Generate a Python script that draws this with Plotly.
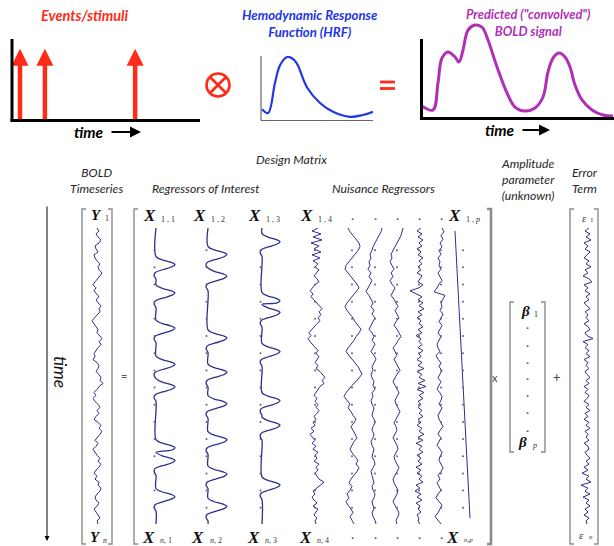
import plotly.graph_objects as go

W, H = 614, 546

# ------------------------------------------------------------------ data
# top row: events, HRF, predicted BOLD
EVENT_ONSETS = [2.55, 10.5, 39.3]
EVENT_HEIGHT = 0.89

HRF_T = [0.27, 1.9, 3.75, 5.1, 7.0, 8.3, 9.6, 12.3, 15.8, 19.3, 23.8, 27.3, 30.0]
HRF_V = [0.17, 0.11, 0.59, 0.87, 1.0, 0.98, 0.90, 0.52, 0.27, 0.13, 0.05, 0.08, 0.13]

BOLD_T = [0.22, 3.73, 5.28, 6.53, 8.39, 10.57, 11.81, 13.06, 14.61, 16.79, 18.96, 20.83,
          23.63, 26.74, 29.22, 32.33, 35.44, 37.93, 39.48, 41.04, 42.90, 44.77, 46.32,
          47.88, 50.05, 53.16, 56.58, 59.69]
BOLD_V = [0.129, 0.086, 0.376, 0.645, 0.710, 0.656, 0.602, 0.731, 0.946, 1.0, 0.978, 0.839,
          0.548, 0.269, 0.118, 0.075, 0.108, 0.226, 0.495, 0.645, 0.699, 0.656, 0.548,
          0.355, 0.194, 0.086, 0.032, 0.022]

# regressors of interest: response peaks (scan index 0..100) and bump profile
X11_PEAKS = [12.3, 21.9, 33.8, 46.0, 53.6, 74.2, 78.5, 90.7]
X12_PEAKS = [8.9, 16.2, 37.1, 48.7, 59.3, 71.5, 83.1, 94.0]
X13_PEAKS = [4.6, 24.5, 28.5, 41.7, 58.3, 66.6, 86.8]
BUMP_DT = [-2.7, -1.6, -0.7, 0.0, 0.8, 1.8, 2.8, 3.8, 5.0]
BUMP_V = [0.0, 0.3, 0.8, 1.0, 0.85, 0.35, -0.05, -0.1, 0.0]

# BOLD time series
Y_VALS = [0, 2, -1, 1, 4, 2, -2, -1, 1, -3,
          -2, 0, 3, 1, 2, 5, 3, 0, -2, -4,
          -1, -3, 0, 2, -1, 1, 4, 2, 3, 0,
          -2, -5, -3, -1, 1, 0, 3, 5, 2, 4,
          1, -1, -3, -2, -4, 0, 2, 1, -1, 2,
          4, 3, 6, 2, 0, -3, -1, -4, -2, 1,
          3, 0, 2, -1, -3, 1, 4, 2, 5, 3,
          0, -2, 1, -1, -4, -2, 0, 3, 1, 4,
          2, -1, -3, 0, -2, 2, 1, 4, 3, 0,
          -2, -1, 2, 0, -3, -1, 1, 3, 0, 1]

# nuisance regressors
NUIS_A = [2, -4, 5, -3, 6, -5, 3, -2, 5, -4,
          4, -3, 2, -1, 3, 0, -2, 1, 3, -1,
          -4, -6, -3, -5, -2, 1, 4, 6, 3, 5,
          2, 4, 1, -2, -4, -7, -5, -8, -6, -3,
          -1, 2, 0, 3, 1, -1, 2, 0, 4, 7,
          9, 6, 8, 4, 2, 0, -2, 1, -1, 2,
          0, 3, 1, -2, 0, -3, -1, -5, -2, -6,
          -3, -1, -4, 0, -3, 2, -1, 1, -2, 3,
          0, 2, -1, 1, 3, 8, 4, 0, -3, -1,
          -4, -2, 1, -3, 2, 0, -2, 1, -1, 0]
NUIS_B = [-5, -3, 0, 3, 6, 7, 5, 2, -1, -4,
          -7, -8, -5, -2, 1, 4, 6, 3, 0, -3,
          -6, -8, -6, -3, 0, 2, 5, 8, 6, 3,
          1, -2, -5, -7, -4, -1, 2, 5, 7, 9,
          6, 3, -1, -4, -7, -9, -6, -3, -5, -2,
          0, 3, 1, -2, 0, 2, 4, 1, -1, -3,
          -1, 2, 5, 3, 6, 4, 1, -2, -4, -1,
          -3, -6, -4, -7, -5, -2, 0, -3, -1, 1]
NUIS_C = [9, 8, 6, 4, 2, 0, -1, -3, -2, -4,
          -3, -5, -2, -4, -1, -3, -5, -7, -4, -2,
          0, -2, 1, -1, 2, 0, -2, -4, -1, 1,
          -1, 2, 0, -2, 1, 3, 1, -1, 0, -2,
          -1, 1, 0, 2, -1, 0, -2, -1, 1, 0,
          -1, 1, 2, 0, -1, 1, 0, -2, -1, 1,
          0, -1, 1, 2, 0, -2, -1, 0, 1, -1,
          0, 2, 1, -1, 0, 1, -1, 0, 2, 3]
NUIS_D = [7, 6, 5, 3, 1, -1, -3, -5, -4, -6,
          -4, -2, -5, -3, -6, -4, -1, -3, -5, -2,
          0, 2, -1, 1, 3, 0, -2, 1, 3, 5,
          2, 0, -3, -1, 1, -2, 0, 2, 4, 1,
          -1, -3, -1, 1, 3, 1, -1, 0, 2, 4,
          2, 0, -2, 0, 1, -1, -3, -1, 1, 2,
          0, -2, -1, 1, 3, 1, -1, -3, -2, 0,
          2, 1, -1, -3, -1, 1, 3, 2, 0, 1]
NUIS_E = [1, -3, 2, -2, 3, -1, 2, -3, 1, -2,
          3, -1, 2, -2, 1, -3, 2, 0, -2, 3,
          -1, -10, -4, 2, -2, 3, -1, 4, -2, 2,
          -3, 1, -1, 3, -2, 2, -4, 1, -1, 2,
          -2, 3, -1, 1, -3, 2, -2, 4, -3, 2,
          -1, 5, -2, 6, -3, 4, -1, 3, -2, 1,
          -2, 2, -1, 3, -2, 1, -3, 2, -1, 4,
          -2, 3, -4, 2, -1, 3, -3, 1, -2, 2,
          -4, 1, -3, 2, -1, 3, -4, 0, -5, 1,
          -3, 2, -4, 0, -2, 1, -3, -1, -2, 0]
NUIS_F = [2, 4, 1, 3, 0, 2, -1, 1, -2, 0,
          -1, 1, -2, 0, 2, -1, -3, -6, 5, 3,
          1, 2, 0, 3, 1, -1, 2, 0, -2, 1,
          -1, -3, -2, 0, -4, -2, 1, -1, 2, 0,
          -2, 1, -1, -3, 0, 2, 1, -1, 2, 0,
          -2, -1, 1, 3, 0, -2, 1, -1, -3, 0,
          2, 0, -1, 1, 3, 1, -2, 0, -3, -1,
          1, -2, -4, -1, 2, 0, -2, -5, -2, 1]
TREND_T = [1, 98]
TREND_V = [0, 15]

# error term
ERR_VALS = [2, -2, 3, -1, 4, -3, 1, -2, 3, 0,
            -3, 2, -1, 4, -2, 1, -4, 2, 5, -3,
            1, -2, 3, -1, 2, -3, 0, 3, -2, 1,
            -1, 2, -3, 1, 3, -2, 0, 6, -4, 1,
            -2, 2, -1, 3, -3, 1, -1, 2, -2, 0,
            3, -1, 2, -3, 1, -2, 2, 0, -3, 2,
            -1, 3, -2, 1, -3, 2, -1, 3, -2, 1,
            -1, 2, -3, 1, 2, -2, 0, 3, -1, 2,
            -3, 1, -5, 2, -1, 4, -6, 1, -2, 3,
            -4, 2, -1, 3, -2, 1, -3, 2, -1, 0]

# matrix grid dot rows (scan index)
DOT_ROWS = [7.5, 13.3, 19.1, 24.9, 30.7, 36.5, 42.3, 48.1, 53.9, 59.7,
            65.5, 71.3, 77.1, 82.9, 88.7, 94.5]

# ------------------------------------------------------------------ helpers
RED = "#ff2a17"
BLUE = "#2136e6"
MAG = "#b02fb6"
NAVY = "#2c2f8c"
GRAY = "#8c8c8c"
TXT = "#262626"


def P(x):
    return x / W


def Q(y):
    return 1 - y / H


fig = go.Figure()
layout = {}
shapes = []
annotations = []
naxes = [0]


def add_axes(xpx, ypx, xrange, yrange):
    naxes[0] += 1
    n = naxes[0]
    sx = "" if n == 1 else str(n)
    layout["xaxis" + sx] = dict(domain=[P(xpx[0]), P(xpx[1])], range=xrange,
                                visible=False, anchor="y" + sx, fixedrange=True)
    layout["yaxis" + sx] = dict(domain=[Q(ypx[1]), Q(ypx[0])], range=yrange,
                                visible=False, anchor="x" + sx, fixedrange=True)
    return "x" + sx, "y" + sx


def text(s, x, y, size, color=TXT, family="Lato", xanchor="center", angle=0):
    annotations.append(dict(text=s, x=P(x), y=Q(y), xref="paper", yref="paper",
                            showarrow=False, xanchor=xanchor, yanchor="middle",
                            textangle=angle,
                            font=dict(size=size, color=color, family=family)))


def pline(x0, y0, x1, y1, color, width):
    shapes.append(dict(type="line", xref="paper", yref="paper",
                       x0=P(x0), y0=Q(y0), x1=P(x1), y1=Q(y1),
                       line=dict(color=color, width=width)))


def bracket(xl, xr, yt, yb, color=GRAY, width=1.4, s=4, wr=None):
    path_l = f"M{P(xl+s)},{Q(yt)} L{P(xl)},{Q(yt)} L{P(xl)},{Q(yb)} L{P(xl+s)},{Q(yb)}"
    path_r = f"M{P(xr-s)},{Q(yt)} L{P(xr)},{Q(yt)} L{P(xr)},{Q(yb)} L{P(xr-s)},{Q(yb)}"
    shapes.append(dict(type="path", xref="paper", yref="paper", path=path_l,
                       line=dict(color=color, width=width)))
    shapes.append(dict(type="path", xref="paper", yref="paper", path=path_r,
                       line=dict(color=color, width=wr or width)))


def tarrow(xtip, y, length, width=2):
    annotations.append(dict(text="", x=P(xtip), y=Q(y), xref="paper", yref="paper",
                            ax=-length, ay=0, showarrow=True, arrowhead=2,
                            arrowsize=1.1, arrowwidth=width, arrowcolor="black"))


# ------------------------------------------------------------------ top row
# events
xa, ya = add_axes((12, 200), (40, 120), [0, 60], [0, 1])
sx, sy = [], []
for o in EVENT_ONSETS:
    sx += [o, o, None]
    sy += [0, EVENT_HEIGHT - 0.15, None]
fig.add_trace(go.Scatter(x=sx, y=sy, mode="lines", xaxis=xa, yaxis=ya,
                         line=dict(color=RED, width=4.5), hoverinfo="skip"))
fig.add_trace(go.Scatter(x=EVENT_ONSETS, y=[EVENT_HEIGHT] * len(EVENT_ONSETS),
                         mode="markers", xaxis=xa, yaxis=ya, cliponaxis=False,
                         marker=dict(symbol="arrow-up", size=17, color=RED),
                         hoverinfo="skip"))
pline(12, 39, 12, 121.5, "black", 3)
pline(10.5, 120.5, 200, 120.5, "black", 3)
text("<b><i>Events/stimuli</i></b>", 85, 15, 14.5, RED)
text("<b><i>time</i></b>", 89, 132, 15.5, "black")
tarrow(141, 132, 31)

# convolution symbol
shapes.append(dict(type="circle", xref="paper", yref="paper",
                   x0=P(206.5), x1=P(229.5), y0=Q(96.5), y1=Q(73.5),
                   line=dict(color=RED, width=2.6)))
pline(210, 77, 226, 93, RED, 2.6)
pline(210, 93, 226, 77, RED, 2.6)

# HRF
xa, ya = add_axes((261, 373), (56, 120), [0, 30], [0, 1.016])
fig.add_trace(go.Scatter(x=HRF_T, y=HRF_V, mode="lines", xaxis=xa, yaxis=ya,
                         line=dict(color=BLUE, width=2.2, shape="spline", smoothing=1),
                         hoverinfo="skip"))
pline(261, 56, 261, 120.5, "#666666", 1.2)
pline(261, 120.5, 373, 120.5, "#666666", 1.2)
text("<b><i>Hemodynamic Response<br>Function (HRF)</i></b>", 309, 23.5, 13.2, BLUE)

# equals
pline(380, 82, 395, 82, RED, 2.8)
pline(380, 88.5, 395, 88.5, RED, 2.8)

# predicted BOLD
xa, ya = add_axes((421, 614), (20, 118), [0, 60], [0, 1.054])
fig.add_trace(go.Scatter(x=BOLD_T, y=BOLD_V, mode="lines", xaxis=xa, yaxis=ya,
                         line=dict(color=MAG, width=3, shape="spline", smoothing=1),
                         hoverinfo="skip"))
pline(421.5, 39, 421.5, 119.5, "black", 3)
pline(420, 118.5, 614, 118.5, "black", 3)
text("<b><i>Predicted (\"convolved\")<br>BOLD signal</i></b>", 528, 22.5, 12.8, MAG)
text("<b><i>time</i></b>", 500, 130, 15.5, "black")
tarrow(550, 130, 29)

# ------------------------------------------------------------------ lower part
text("<i>BOLD<br>Timeseries</i>", 97, 181, 12.2)
text("<i>Design Matrix</i>", 291, 159, 12.2)
text("<i>Regressors of Interest</i>", 206, 188, 12.2)
text("<i>Nuisance Regressors</i>", 384, 188, 12.2)
text("<i>Amplitude<br>parameter<br>(unknown)</i>", 528, 180, 12.2)
text("<i>Error<br>Term</i>", 585, 181, 12.2)

# time arrow
annotations.append(dict(text="", x=P(47), y=Q(541), xref="paper", yref="paper",
                        ax=0, ay=-336, showarrow=True, arrowhead=2, arrowsize=1,
                        arrowwidth=1, arrowcolor="black"))
text("<i>time</i>", 61, 372, 17.5, "#111111", angle=90)

# brackets
bracket(82, 112, 209, 544)
bracket(134, 491, 209, 544, wr=2.6)
bracket(510, 545, 302, 452)
bracket(570, 598, 209, 544)

text("=", 124, 375, 11, "#555555")
text("x", 495, 377, 11, "#444444")
text("+", 557, 377, 13, "#444444")

YDOM = (228, 524)
TR = [100, 0]


def idx_times(n):
    return [100.0 * i / (n - 1) for i in range(n)]


def noisy_column(vals, cx, dot_off=None, hw=15):
    xa, ya = add_axes((cx - hw, cx + hw), YDOM, [-hw, hw], TR)
    fig.add_trace(go.Scatter(x=vals, y=idx_times(len(vals)), mode="lines",
                             xaxis=xa, yaxis=ya, line=dict(color=NAVY, width=1),
                             hoverinfo="skip"))
    if dot_off is not None:
        fig.add_trace(go.Scatter(x=[dot_off] * len(DOT_ROWS), y=DOT_ROWS, mode="markers",
                                 xaxis=xa, yaxis=ya,
                                 marker=dict(size=2, color="#666666"), hoverinfo="skip"))


def regressor_series(peaks):
    ts, vs = [0.0], [0.0]
    for i, p in enumerate(peaks):
        nxt = peaks[i + 1] + BUMP_DT[0] if i + 1 < len(peaks) else 100.0
        for dt, v in zip(BUMP_DT, BUMP_V):
            t = p + dt
            if t <= ts[-1] or t >= nxt:
                continue
            ts.append(t)
            vs.append(v)
    ts.append(100.0)
    vs.append(0.0)
    return ts, vs


def regressor_column(peaks, base, amp):
    xa, ya = add_axes((base - 10, base + 30), YDOM, [-10 / amp, 30 / amp], TR)
    ts, vs = regressor_series(peaks)
    fig.add_trace(go.Scatter(x=vs, y=ts, mode="lines", xaxis=xa, yaxis=ya,
                             line=dict(color=NAVY, width=1.3, shape="spline", smoothing=1),
                             hoverinfo="skip"))
    fig.add_trace(go.Scatter(x=[-1.5 / amp] * len(DOT_ROWS), y=DOT_ROWS, mode="markers",
                             xaxis=xa, yaxis=ya,
                             marker=dict(size=2, color="#666666"), hoverinfo="skip"))


noisy_column(Y_VALS, 97)
regressor_column(X11_PEAKS, 156, 19)
regressor_column(X12_PEAKS, 208, 19)
regressor_column(X13_PEAKS, 262, 18)
noisy_column(NUIS_A, 316, -1)
noisy_column(NUIS_B, 353, -1)
noisy_column(NUIS_C, 373, 2)
noisy_column(NUIS_D, 396, 1)
noisy_column(NUIS_E, 420, -1)
noisy_column(NUIS_F, 440, 1)
xa, ya = add_axes((450, 480), YDOM, [-5, 25], TR)
fig.add_trace(go.Scatter(x=TREND_V, y=TREND_T, mode="lines", xaxis=xa, yaxis=ya,
                         line=dict(color=NAVY, width=1), hoverinfo="skip"))
fig.add_trace(go.Scatter(x=[8] * len(DOT_ROWS), y=DOT_ROWS, mode="markers",
                         xaxis=xa, yaxis=ya, marker=dict(size=2, color="#666666"),
                         hoverinfo="skip"))
noisy_column(ERR_VALS, 587)

# matrix labels
SERIF = "Liberation Serif"


def sym(main, x, y, sub, size=17, subsize=8, dx=10, dy=3):
    text(f"<b><i>{main}</i></b>", x, y, size, "#111111", SERIF)
    text(sub, x + dx, y + dy, subsize, "#333333", SERIF, xanchor="left")


sym("X", 149, 216, "1 , 1")
sym("X", 199, 216, "1 , 2")
sym("X", 254, 216, "1 , 3")
sym("X", 306, 216, "1 , 4")
sym("X", 454, 216, "1 , <i>p</i>")
sym("X", 148, 537, "<i>n</i>, 1")
sym("X", 198, 537, "<i>n</i>, 2")
sym("X", 253, 537, "<i>n</i>, 3")
sym("X", 305, 537, "<i>n</i>, 4")
sym("X", 452, 537, "<i>n,p</i>", subsize=7)
sym("Y", 97, 215, "1", size=15, dx=6)
sym("Y", 95, 537, "<i>n</i>", size=15, dx=6)
sym("β", 525, 311, "1", size=15, dx=7)
sym("β", 522, 442, "<i>p</i>", size=15, dx=8)
text("<i>ε</i>", 584, 218, 11, "#333333", SERIF)
text("1", 588, 220, 7, "#333333", SERIF, xanchor="left")
text("<i>ε</i>", 581, 535, 11, "#333333", SERIF)
text("<i>n</i>", 587, 537, 7, "#333333", SERIF, xanchor="left")

for dxp in [352, 375, 397, 419, 441]:
    text("·", dxp, 218, 12, "#555555")
    text("·", dxp, 537, 12, "#555555")
for dyp in [327, 345, 362, 378, 395, 412, 430]:
    text("·", 527, dyp, 12, "#555555")

fig.update_layout(width=W, height=H, margin=dict(l=0, r=0, t=0, b=0),
                  paper_bgcolor="white", plot_bgcolor="rgba(0,0,0,0)",
                  showlegend=False, shapes=shapes, annotations=annotations, **layout)

fig.write_html("out.html", config={"displayModeBar": False},
               post_script="document.body.style.margin='0';document.body.style.overflow='hidden';")
